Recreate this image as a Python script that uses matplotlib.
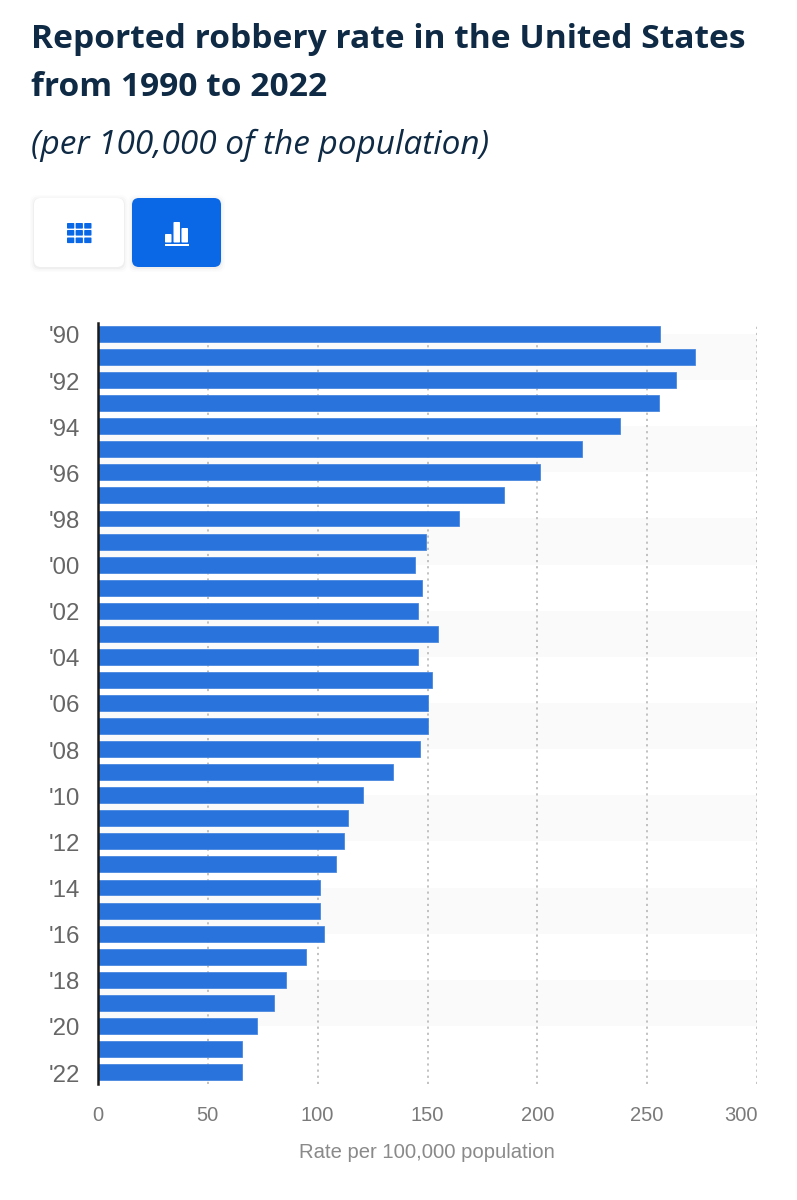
import matplotlib
matplotlib.use("Agg")
import matplotlib.pyplot as plt
from matplotlib.patches import FancyBboxPatch, Rectangle
from matplotlib.transforms import ScaledTranslation

years = list(range(1990, 2023))
rates = [256, 272, 263, 255.5, 237.5, 220.5, 201, 185, 164.5, 149.5, 144.5, 147.5, 145.5, 155, 145.5,
         152, 150, 150, 146.5, 134.5, 120.5, 114, 112, 108.5, 101, 101, 103, 94.5, 85.5, 80, 72.5, 65.5, 65.5]
x_ticks = [0, 50, 100, 150, 200, 250, 300]
title = "Reported robbery rate in the United States\nfrom 1990 to 2022"
subtitle = "(per 100,000 of the population)"
x_label = "Rate per 100,000 population"

W, H = 797, 1200
BLUE = "#2873DC"
fig = plt.figure(figsize=(W / 100, H / 100), dpi=100, facecolor="white")

# page layer in pixel coordinates
bg = fig.add_axes([0, 0, 1, 1], zorder=0)
bg.set_xlim(0, W); bg.set_ylim(H, 0); bg.axis("off")
bg.text(31, 40, title.split("\n")[0], family="Open Sans", weight="bold", fontsize=24.1, color="#0F2A44", va="center")
bg.text(31, 88, title.split("\n")[1], family="Open Sans", weight="bold", fontsize=24.1, color="#0F2A44", va="center")
bg.text(31, 145, subtitle, family="Open Sans", style="italic", fontsize=24, color="#0F2A44", va="center")

# buttons
for off, a in [(4, 0.012), (2.5, 0.02), (1, 0.03)]:
    bg.add_patch(FancyBboxPatch((34 - off, 198 - off + 1), 90 + 2 * off, 69 + 2 * off,
                                boxstyle="round,pad=0,rounding_size=7", fc="black", ec="none", alpha=a))
    bg.add_patch(FancyBboxPatch((132 - off, 198 - off + 1), 89 + 2 * off, 69 + 2 * off,
                                boxstyle="round,pad=0,rounding_size=7", fc="black", ec="none", alpha=a))
bg.add_patch(FancyBboxPatch((34, 198), 90, 69, boxstyle="round,pad=0,rounding_size=7", fc="white", ec="none"))
bg.add_patch(FancyBboxPatch((132, 198), 89, 69, boxstyle="round,pad=0,rounding_size=7", fc="#0A68E6", ec="none"))
for cx in (67, 75.6, 84.2):
    for cy in (223, 230, 237.5):
        bg.add_patch(FancyBboxPatch((cx, cy), 7.3, 5.6, boxstyle="round,pad=0,rounding_size=0.8", fc="#0A68E6", ec="none"))
for x0, y0 in [(165, 234), (173.5, 222), (181.5, 228)]:
    bg.add_patch(FancyBboxPatch((x0, y0), 6.5, 242.5 - y0, boxstyle="round,pad=0,rounding_size=0.8", fc="white", ec="none"))
bg.add_patch(Rectangle((165, 244), 24, 2, fc="white", ec="none"))

# chart
left, right, top, bottom = 98, 757, 323, 1083.5
ax = fig.add_axes([left / W, 1 - bottom / H, (right - left) / W, (bottom - top) / H], zorder=1)
ax.patch.set_alpha(0)
positions = list(range(len(years)))
step = (1072 - 334) / 32
ax.set_xlim(0, 300)
ax.set_ylim(32 + (bottom - 1072) / step, -(334 - top) / step)

for i in range(0, len(years) - 1, 4):
    ax.axhspan(i, i + 2, xmin=0, xmax=1, fc="#FAFAFA", ec="none", zorder=0)
ax.set_axisbelow(True)
ax.xaxis.grid(True, color="#BDBDBD", linestyle=(0, (1.2, 2.2)), linewidth=1.3, zorder=1)
ax.yaxis.grid(False)
ax.barh(positions, rates, height=0.69, color=BLUE, edgecolor="#4A88E0", linewidth=0.6, zorder=2)

ax.set_xticks(x_ticks)
ax.set_yticks(positions[::2])
ax.set_yticklabels(["'" + str(y)[2:] for y in years[::2]])
ax.tick_params(axis="x", length=0, pad=16, labelsize=14.5, labelcolor="#7A7A7A")
ax.tick_params(axis="y", length=0, pad=13, labelsize=17.3, labelcolor="#666666")
for lab in ax.get_xticklabels() + ax.get_yticklabels():
    lab.set_family("Liberation Sans")
ylab_shift = ScaledTranslation(0, -1 / 100, fig.dpi_scale_trans)
for lab in ax.get_yticklabels():
    lab.set_transform(lab.get_transform() + ylab_shift)
ax.get_xticklabels()[-1].set_horizontalalignment("right")
x_last_shift = ScaledTranslation(1 / 100, 0, fig.dpi_scale_trans)
ax.get_xticklabels()[-1].set_transform(ax.get_xticklabels()[-1].get_transform() + x_last_shift)
for s in ("top", "right", "bottom"):
    ax.spines[s].set_visible(False)
ax.spines["left"].set_color("#1A1A1A")
ax.spines["left"].set_linewidth(1.8)
ax.spines["left"].set_zorder(5)

bg.text(427, 1153, x_label, family="Liberation Sans", fontsize=14.6, color="#8A8A8A", ha="center", va="center")

fig.savefig("out.png", dpi=100)
